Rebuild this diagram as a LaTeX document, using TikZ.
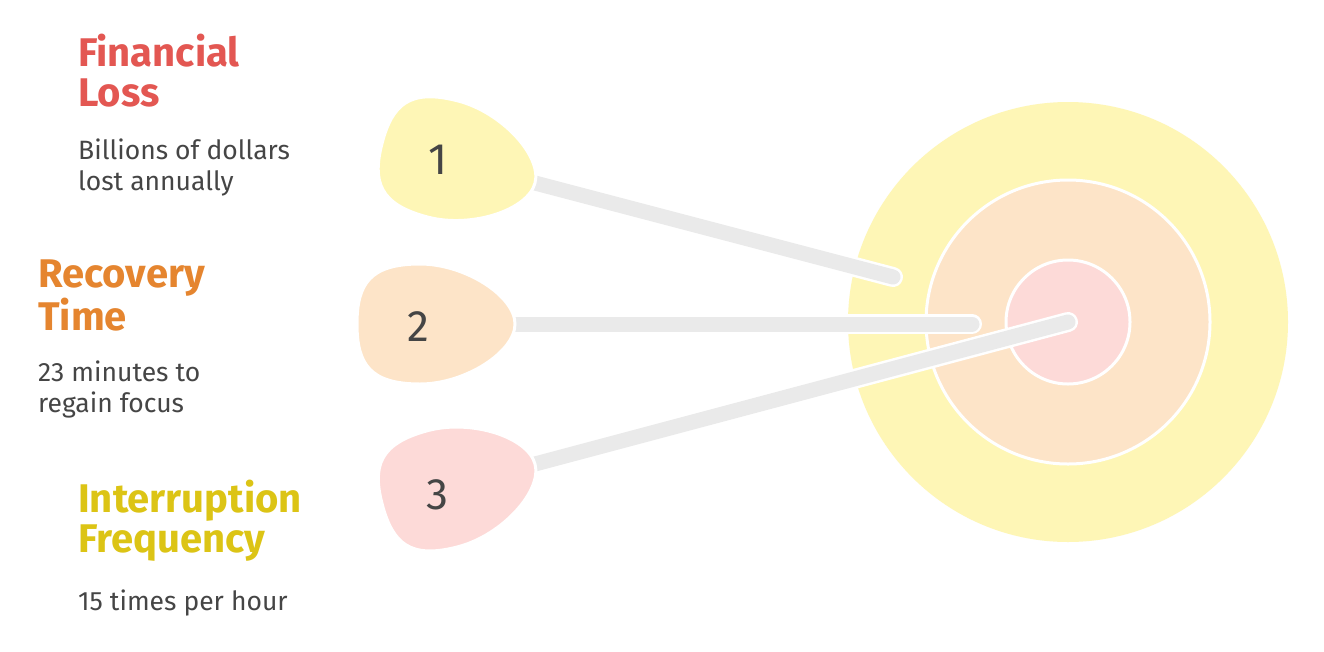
\documentclass[tikz,border=0pt]{standalone}
\usepackage{fontspec}
\setmainfont{Fira Sans}
\definecolor{ringY}{HTML}{FEF6B6}
\definecolor{ringO}{HTML}{FDE4C8}
\definecolor{ringR}{HTML}{FDDAD8}
\definecolor{shaftG}{HTML}{EAEAEA}
\definecolor{inkG}{HTML}{454545}
\definecolor{headR}{HTML}{E35752}
\definecolor{headO}{HTML}{E5852F}
\definecolor{headY}{HTML}{DCC415}
\tikzset{
  title/.style={anchor=base west, inner sep=0pt, align=left, font=\fontsize{40}{40}\selectfont\bfseries},
  note/.style={anchor=base west, inner sep=0pt, align=left, text=inkG, font=\fontsize{26.5}{31}\selectfont},
  digit/.style={text=inkG, font=\fontsize{44}{48}\selectfont},
  shaft/.style={line cap=round, line width=15pt, draw=shaftG},
  shaftrim/.style={line cap=round, line width=20pt, draw=white},
}
\begin{document}
\begin{tikzpicture}[x=1pt, y=-1pt]
	\useasboundingbox[fill=white] (0,0) rectangle (1324,651);
	% 1. target rings
	\coordinate (bull) at (1068,322);
	\fill[ringY] (bull) circle[radius=220];
	\filldraw[ringO, draw=white, line width=3pt] (bull) circle[radius=142];
	\filldraw[ringR, draw=white, line width=3pt] (bull) circle[radius=62];
	
	% 2. dart tips and hit points
	\coordinate (tip1) at (535,183);  \coordinate (hit1) at (893,277);
	\coordinate (tip2) at (515,324);  \coordinate (hit2) at (972,324);
	\coordinate (tip3) at (535,464);  \coordinate (hit3) at (bull);
	
	% 3. shafts
	\foreach \i in {1,2,3} {
		\draw[shaftrim] (tip\i) -- (hit\i);
		\draw[shaft] (tip\i) -- (hit\i);
	}
	
	% 4. dart heads with numbers
	\foreach \i/\a/\c in {1/-14.6/ringY, 2/0/ringO, 3/15/ringR} {
		\filldraw[\c, draw=white, line width=3pt, shift={(tip\i)}, rotate=\a]
			(0,0) .. controls (0,-28) and (-50,-60) .. (-95,-60)
			.. controls (-145,-60) and (-158,-40) .. (-158,0)
			.. controls (-158,40) and (-145,60) .. (-95,60)
			.. controls (-50,60) and (0,28) .. (0,0) -- cycle;
	}
	\node[digit] (n1) at (438,160) {1};
	\node[digit] (n2) at (418,327) {2};
	\node[digit] (n3) at (437,495) {3};
	
	% 5. labels (anchored at the last baseline)
	\node[title, text=headR] (fin) at (78,106) {Financial\\Loss};
	\node[note] (finnote) at (78,190) {Billions of dollars\\lost annually};
	\node[title, text=headO] (rec) at (38,330) {Recovery\\Time};
	\node[note] (recnote) at (38,412) {23 minutes to\\regain focus};
	\node[title, text=headY] (int) at (78,552) {Interruption\\Frequency};
	\node[note] (intnote) at (78,610) {15 times per hour};
\end{tikzpicture}
\end{document}
